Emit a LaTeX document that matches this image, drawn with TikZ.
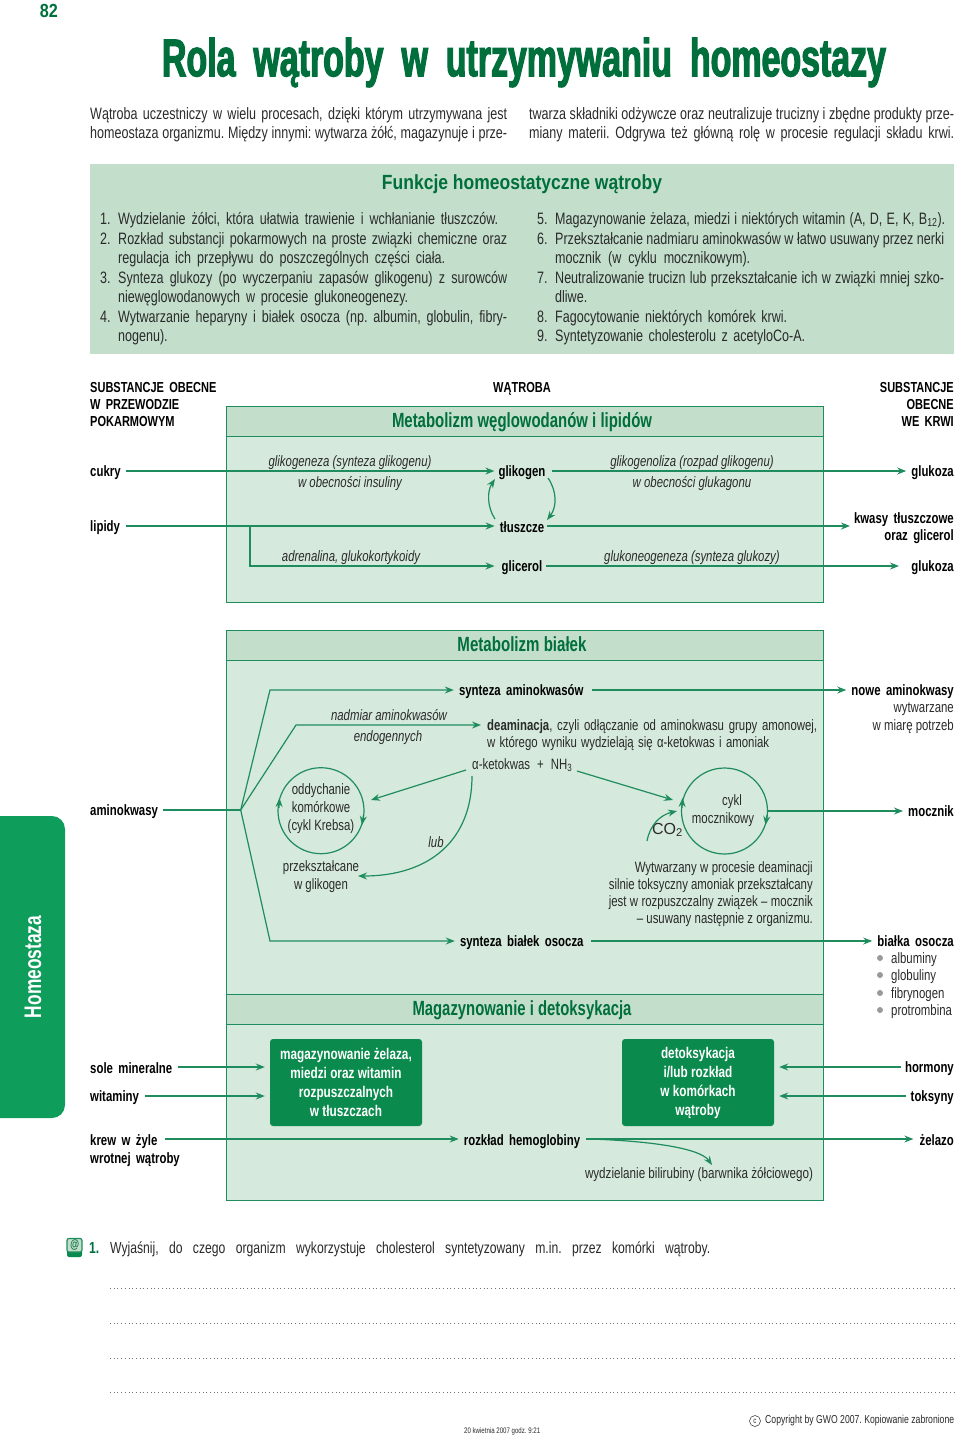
\documentclass[tikz,border=0pt]{standalone}
\usepackage{fontspec}
\usepackage{graphicx}
\usetikzlibrary{arrows.meta}
\setmainfont[FakeStretch=0.76]{Liberation Sans}
\newfontfamily\wide{Liberation Sans}
\newfontfamily\heavy[FakeStretch=0.64,FakeBold=2.2]{Liberation Sans Bold}
\definecolor{hdr}{HTML}{C3DFCC}
\definecolor{pan}{HTML}{D5E9DC}
\definecolor{edge}{HTML}{1F8C5D}
\definecolor{ttl}{HTML}{006F3C}
\definecolor{side}{HTML}{0F9D5C}
\definecolor{dbox}{HTML}{0A8A4C}
\definecolor{ink}{HTML}{2A2A2A}
\newcommand{\fs}[1]{\fontsize{#1}{#1}\selectfont}
\newcommand{\fw}[2]{\makebox[#1pt][s]{#2}}
\newcommand{\rw}[2]{\resizebox{#1pt}{\height}{#2}}
\newcommand{\sbf}{\fs{15}\bfseries\setlength{\spaceskip}{5.4pt}}
\newcommand{\capf}{\fs{14.5}\bfseries\setlength{\spaceskip}{5.2pt}}
\tikzset{
 every node/.style={inner sep=0pt,text=ink},
 tbase/.style={text height=12pt,text depth=2pt},
 body/.style={tbase,font=\fs{16.5}},
 lt/.style={body,anchor=west},
 rt/.style={body,anchor=east},
 sb/.style={tbase,font=\sbf,text=black},
 slt/.style={sb,anchor=west},
 srt/.style={sb,anchor=east},
 caps/.style={font=\capf},
 it/.style={tbase,font=\fs{15}\itshape},
 sm/.style={tbase,font=\fs{15}},
 multi/.style={font=\fs{15},text height=,text depth=,align=center},
 panelhead/.style={text height=15pt,text depth=3pt,font=\fs{20.5}\bfseries,text=ttl},
 hbox/.style={draw=edge,line width=.9pt,fill=hdr},
 pbox/.style={draw=edge,line width=.9pt,fill=pan},
 arr/.style={draw=edge,line width=1.2pt,-{Stealth[length=9pt,width=7pt,inset=3pt]}},
 thick arr/.style={arr,line width=1.7pt},
 darkbox/.style={fill=dbox,rounded corners=3pt},
 wt/.style={font=\fs{15.5}\bfseries,text=white,align=center},
 bul/.style={circle,fill=black!40,minimum size=6pt},
 dots/.style={draw=black!55,line width=.8pt,dash pattern=on .9pt off 2.8pt},
}
\begin{document}
\frenchspacing
\begin{tikzpicture}[x=1pt,y=-1pt]
\useasboundingbox (0,0) rectangle (960,1436);
% header
\node[tbase,font=\fs{19}\bfseries,text=ttl] (pg) at (49,12.5) {\rw{18}{82}};
\node[font=\fs{53}\heavy,text=ttl] (title) at (524,62.5) {\fw{724}{Rola wątroby w utrzymywaniu homeostazy}};
\node[lt] (i1) at (90,114) {\fw{417}{Wątroba uczestniczy w wielu procesach, dzięki którym utrzymywana jest}};
\node[lt] (i2) at (90,133) {\fw{417}{homeostaza organizmu. Między innymi: wytwarza żółć, magazynuje i prze-}};
\node[lt] (i3) at (529,114) {\fw{425}{twarza składniki odżywcze oraz neutralizuje trucizny i zbędne produkty prze-}};
\node[lt] (i4) at (529,133) {\fw{425}{miany materii. Odgrywa też główną rolę w procesie regulacji składu krwi.}};
% functions
\fill[hdr] (90,164) rectangle (954,354);
\node[panelhead] (ft) at (522,183) {\rw{280}{Funkcje homeostatyczne wątroby}};
\node[lt] (n1) at (100,219) {1.};
\node[lt] (l1) at (118,219) {\fw{380}{Wydzielanie żółci, która ułatwia trawienie i wchłanianie tłuszczów.}};
\node[lt] (n2) at (100,239) {2.};
\node[lt] (l2) at (118,239) {\fw{389}{Rozkład substancji pokarmowych na proste związki chemiczne oraz}};
\node[lt] (l2b) at (118,258) {\fw{327}{regulacja ich przepływu do poszczególnych części ciała.}};
\node[lt] (n3) at (100,278) {3.};
\node[lt] (l3) at (118,278) {\fw{389}{Synteza glukozy (po wyczerpaniu zapasów glikogenu) z surowców}};
\node[lt] (l3b) at (118,297) {\fw{290}{niewęglowodanowych w procesie glukoneogenezy.}};
\node[lt] (n4) at (100,317) {4.};
\node[lt] (l4) at (118,317) {\fw{389}{Wytwarzanie heparyny i białek osocza (np. albumin, globulin, fibry-}};
\node[lt] (l4b) at (118,336) {nogenu).};
\node[lt] (n5) at (537,219) {5.};
\node[lt] (l5) at (555,219) {\fw{390}{Magazynowanie żelaza, miedzi i niektórych witamin (A, D, E, K, B\textsubscript{12}).}};
\node[lt] (n6) at (537,239) {6.};
\node[lt] (l6) at (555,239) {\fw{389}{Przekształcanie nadmiaru aminokwasów w łatwo usuwany przez nerki}};
\node[lt] (l6b) at (555,258) {\fw{195}{mocznik (w cyklu mocznikowym).}};
\node[lt] (n7) at (537,278) {7.};
\node[lt] (l7) at (555,278) {\fw{389}{Neutralizowanie trucizn lub przekształcanie ich w związki mniej szko-}};
\node[lt] (l7b) at (555,297) {dliwe.};
\node[lt] (n8) at (537,317) {8.};
\node[lt] (l8) at (555,317) {\fw{232}{Fagocytowanie niektórych komórek krwi.}};
\node[lt] (n9) at (537,336) {9.};
\node[lt] (l9) at (555,336) {\fw{250}{Syntetyzowanie cholesterolu z acetyloCo-A.}};
% column heads
\node[slt,caps] (ca1) at (90,387) {SUBSTANCJE OBECNE};
\node[slt,caps] (ca2) at (90,404) {W PRZEWODZIE};
\node[slt,caps] (ca3) at (90,421) {POKARMOWYM};
\node[sb,caps] (cb) at (522,387) {WĄTROBA};
\node[srt,caps] (cc1) at (954,387) {SUBSTANCJE};
\node[srt,caps] (cc2) at (954,404) {OBECNE};
\node[srt,caps] (cc3) at (954,421) {WE KRWI};
% panel 1
\draw[pbox] (226,436) rectangle (823,602);
\draw[hbox] (226,406) rectangle (823,436);
\node[panelhead] (h1) at (522,421) {\rw{260}{Metabolizm węglowodanów i lipidów}};
\node[slt] (cukry) at (90,471) {cukry};
\node[sb] (glikogen) at (522,471) {glikogen};
\node[srt] (gl1) at (954,471) {glukoza};
\node[slt] (lipidy) at (90,526) {lipidy};
\node[sb] (tluszcze) at (522,527) {tłuszcze};
\node[srt] (kw) at (954,518) {kwasy tłuszczowe};
\node[srt] (og) at (954,535) {oraz glicerol};
\node[sb] (glicerol) at (522,566) {glicerol};
\node[srt] (gl2) at (954,566) {glukoza};
\node[it] (e1) at (350,461) {glikogeneza (synteza glikogenu)};
\node[it] (e2) at (350,482) {w obecności insuliny};
\node[it] (e3) at (692,461) {glikogenoliza (rozpad glikogenu)};
\node[it] (e4) at (692,482) {w obecności glukagonu};
\node[it] (e5) at (351,556) {adrenalina, glukokortykoidy};
\node[it] (e6) at (692,556) {glukoneogeneza (synteza glukozy)};
\draw[arr] (cukry.east)+(5,0) -- ([xshift=-4pt]glikogen.west);
\draw[arr] ([xshift=6pt]glikogen.east) -- ([xshift=-5pt]gl1.west);
\draw[thick arr] (lipidy.east)+(6,0) -- ([xshift=-5pt,yshift=1pt]tluszcze.west);
\draw[thick arr] ([xshift=3pt,yshift=1pt]tluszcze.east) -- (850,526);
\coordinate (br) at (250,526);
\draw[arr] (br) |- ([xshift=-7pt]glicerol.west);
\draw[arr] ([xshift=4pt]glicerol.east) -- (899,566);
\draw[arr] (495,519) .. controls (487,507) and (487,491) .. (495,479);
\draw[arr] (548,478) .. controls (557,491) and (557,507) .. (547,520);
% panel 2
\draw[pbox] (226,660) rectangle (823,994);
\draw[hbox] (226,630) rectangle (823,660);
\node[panelhead] (h2) at (522,645) {\rw{129}{Metabolizm białek}};
\node[slt] (amino) at (90,810) {aminokwasy};
\coordinate (fork) at (240.7,810);
\draw[edge,line width=1.2pt] (amino.east)+(5,0) -- (fork);
\node[sb] (syn) at (522,690) {\fw{126}{synteza aminokwasów}};
\node[srt] (nowe) at (954,690) {nowe aminokwasy};
\node[rt,sm] (wyt) at (954,707) {wytwarzane};
\node[rt,sm] (wm) at (954,725) {w miarę potrzeb};
\coordinate (c1) at (270,690);
\draw[arr] (fork) -- (c1) -- ([xshift=-5pt]syn.west);
\draw[arr] ([xshift=7pt]syn.east) -- ([xshift=-5pt]nowe.west);
\coordinate (c2) at (296,725);
\draw[arr] (fork) -- (c2) -- (481,725);
\node[it] (e7) at (389,715) {nadmiar aminokwasów};
\node[it] (e8) at (388,736) {endogennych};
\node[lt,sm] (d1) at (487,725) {\fw{330}{\textbf{deaminacja}, czyli odłączanie od aminokwasu grupy amonowej,}};
\node[lt,sm] (d2) at (487,742) {\fw{282}{w którego wyniku wydzielają się α-ketokwas i amoniak}};
\node[lt,sm] (ket) at (472,764) {\fw{100}{α-ketokwas + NH\textsubscript{3}}};
\node[draw=edge,line width=1.2pt,circle,minimum size=86pt] (krebs) at (321,810.7) {};
\node[multi] (kt) at (321,809) {oddychanie\\[3pt]komórkowe\\[3pt](cykl Krebsa)};
\node[multi] (prz) at (321,877) {przekształcane\\[3pt]w glikogen};
\node[it] (lub) at (436,842) {lub};
\draw[arr] (466,770) -- (371,800);
\draw[arr] (577,771) -- (673,800);
\draw[arr] (472,776) .. controls (472,840) and (430,876) .. (358,876);
\draw[arr] (279,808) -- (279.5,798);
\draw[arr] (363.5,815) -- (362,825);
\node[draw=edge,line width=1.2pt,circle,minimum size=86pt] (cykl) at (724.5,811) {};
\node[multi] (cyt) at (723,811) {\hspace*{18pt}cykl\\[3pt]mocznikowy};
\draw[arr] (682,808) -- (682.5,798);
\draw[arr] (767,815) -- (765.5,825);
\node[font=\fs{16},text=ink] (co2) at (667.5,830) {\wide CO\textsubscript{2}};
\draw[arr] (647,841) .. controls (650,825) and (660,815) .. (677,811);
\node[srt] (moc) at (954,811) {mocznik};
\draw[arr] (cykl.east) -- ([xshift=-5pt]moc.west);
\node[rt,sm] (w1) at (813,867) {\fw{178}{Wytwarzany w procesie deaminacji}};
\node[rt,sm] (w2) at (813,884) {\fw{204}{silnie toksyczny amoniak przekształcany}};
\node[rt,sm] (w3) at (813,901) {\fw{204}{jest w rozpuszczalny związek -- mocznik}};
\node[rt,sm] (w4) at (813,918) {\fw{176}{-- usuwany następnie z organizmu.}};
\node[sb] (bia) at (522,941) {\fw{124}{synteza białek osocza}};
\node[srt] (bos) at (954,941) {białka osocza};
\coordinate (c3) at (270,941);
\draw[arr] (fork) -- (c3) -- ([xshift=-5pt]bia.west);
\draw[arr] ([xshift=7pt]bia.east) -- ([xshift=-5pt]bos.west);
\node[bul] (b1) at (880,958) {}; \node[lt,sm] (bt1) at (891,958) {albuminy};
\node[bul] (b2) at (880,975) {}; \node[lt,sm] (bt2) at (891,975) {globuliny};
\node[bul] (b3) at (880,993) {}; \node[lt,sm] (bt3) at (891,993) {fibrynogen};
\node[bul] (b4) at (880,1010) {}; \node[lt,sm] (bt4) at (891,1010) {protrombina};
% panel 3
\draw[pbox] (226,1024) rectangle (823,1200);
\draw[hbox] (226,994) rectangle (823,1024);
\node[panelhead] (h3) at (522,1009) {\rw{219}{Magazynowanie i detoksykacja}};
\node[darkbox,minimum width=152pt,minimum height=87pt] (mag) at (346,1082.5) {};
\node[wt] (magt) at (346,1082.5) {magazynowanie żelaza,\\[3.5pt]miedzi oraz witamin\\[3.5pt]rozpuszczalnych\\[3.5pt]w tłuszczach};
\node[darkbox,minimum width=152pt,minimum height=87pt] (det) at (698,1082.5) {};
\node[wt] (dett) at (698,1082.5) {detoksykacja\\[3.5pt]i/lub rozkład\\[3.5pt]w komórkach\\[3.5pt]wątroby};
\node[slt] (sole) at (90,1068) {sole mineralne};
\node[slt] (wit) at (90,1096) {witaminy};
\node[srt] (horm) at (954,1067) {hormony};
\node[srt] (toks) at (954,1096) {toksyny};
\draw[arr] ([xshift=6pt,yshift=1pt]sole.east) -- ([xshift=-5pt,yshift=15.5pt]mag.west);
\draw[arr] ([xshift=6pt]wit.east) -- ([xshift=-5pt,yshift=-13.5pt]mag.west);
\draw[arr] ([xshift=-4pt]horm.west) -- ([xshift=5pt,yshift=15.5pt]det.east);
\draw[arr] ([xshift=-5pt]toks.west) -- ([xshift=5pt,yshift=-13.5pt]det.east);
\node[slt] (krew) at (90,1140) {krew w żyle};
\node[slt] (wrot) at (90,1158) {wrotnej wątroby};
\node[sb] (roz) at (522,1140) {rozkład hemoglobiny};
\node[srt] (zel) at (954,1140) {żelazo};
\node[sm] (bil) at (699,1173) {\rw{228}{wydzielanie bilirubiny (barwnika żółciowego)}};
\draw[arr] ([xshift=7pt,yshift=1pt]krew.east) -- ([xshift=-5pt,yshift=1pt]roz.west);
\draw[arr] ([xshift=6pt,yshift=1pt]roz.east) -- ([xshift=-6pt,yshift=1pt]zel.west);
\draw[arr] ([xshift=10pt,yshift=1pt]roz.east) .. controls (650,1141) and (700,1148) .. (712,1165);
% sidebar
\fill[side,rounded corners=13pt] (-30,816) rectangle (65,1118);
\node[font=\fs{24}\wide\bfseries,text=white,rotate=90] (sd) at (33,967) {\rw{102}{Homeostaza}};
% question
\fill[dbox,rounded corners=2pt] (67,1250) rectangle (82,1257);
\draw[edge,fill=hdr,line width=1.2pt,rounded corners=2pt] (67,1238.5) rectangle (82,1252);
\node[font=\fs{12}\itshape\bfseries,text=ttl] (at) at (74.5,1245) {@};
\node[tbase,font=\fs{16}\bfseries,text=ttl,anchor=west] (qn) at (89,1248) {1.};
\node[lt,font=\fs{16}] (q) at (110,1248) {\fw{600}{Wyjaśnij, do czego organizm wykorzystuje cholesterol syntetyzowany m.in. przez komórki wątroby.}};
\draw[dots] (110,1288) -- (954,1288);
\draw[dots] (110,1323) -- (954,1323);
\draw[dots] (110,1358) -- (954,1358);
\draw[dots] (110,1392) -- (954,1392);
% footer
\node[draw=ink,circle,line width=.5pt,minimum size=11pt,font=\fs{8}] (cr) at (755,1421) {c};
\node[anchor=west,font=\fs{11.5}] (copy) at (765,1421) {\rw{189}{Copyright by GWO 2007. Kopiowanie zabronione}};
\node[anchor=west,font=\fs{8}] (date) at (464,1431) {\rw{76}{20 kwietnia 2007 godz. 9:21}};
\end{tikzpicture}
\end{document}
